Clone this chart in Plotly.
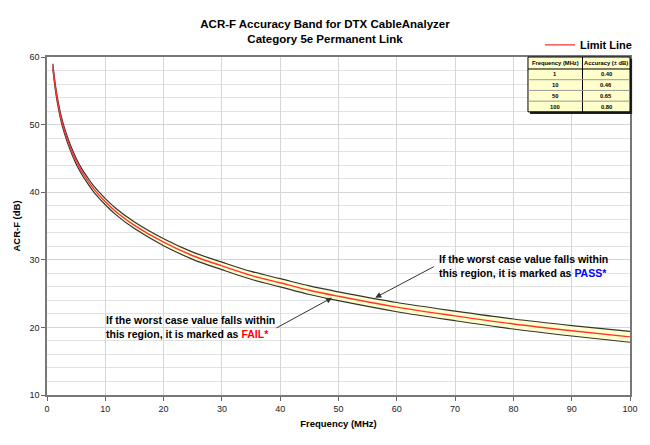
import plotly.graph_objects as go

# limit line (MHz -> dB)
freq = [1, 1.5, 2, 2.5, 3, 4, 5, 6, 7, 8, 10, 12, 15, 20, 25, 30, 35, 40, 45,
        50, 60, 70, 80, 90, 100]
limit = [58.6, 55.1, 52.6, 50.6, 49.1, 46.6, 44.6, 43.0, 41.7, 40.5, 38.6, 37.0,
         35.1, 32.6, 30.6, 29.1, 27.7, 26.6, 25.5, 24.6, 23.0, 21.7, 20.5, 19.5, 18.6]
# half width of the accuracy band at the same frequencies (estimated)
accuracy = [0.40, 0.40, 0.40, 0.41, 0.41, 0.41, 0.42, 0.42, 0.43, 0.44, 0.46, 0.47,
            0.48, 0.51, 0.53, 0.56, 0.58, 0.61, 0.63, 0.65, 0.68, 0.71, 0.74, 0.77, 0.80]

# accuracy table in the corner
table_freq = ["1", "10", "50", "100"]
table_acc = ["0.40", "0.46", "0.65", "0.80"]
table_header = ["Frequency (MHz)", "Accuracy (± dB)"]

FONT = "Arial, Liberation Sans, sans-serif"

upper = [l + a for l, a in zip(limit, accuracy)]
lower = [l - a for l, a in zip(limit, accuracy)]

fig = go.Figure()
fig.add_trace(go.Scatter(x=freq, y=lower, mode="lines", line_shape="spline",
                         line=dict(color="#333333", width=1.2),
                         showlegend=False, hoverinfo="skip"))
fig.add_trace(go.Scatter(x=freq, y=upper, mode="lines", line_shape="spline",
                         line=dict(color="#333333", width=1.2),
                         fill="tonexty", fillcolor="#FFFFCC",
                         showlegend=False, hoverinfo="skip"))
fig.add_trace(go.Scatter(x=freq, y=limit, mode="lines", line_shape="spline",
                         line=dict(color="#FF3333", width=1.4),
                         name="<b>Limit Line</b>"))

# arrows and region notes
note = "<b>If the worst case value falls within<br>this region, it is marked as "
fig.add_annotation(x=66.9, y=29.1, xanchor="left", yanchor="middle", align="left",
                   showarrow=False, font=dict(size=10.5, color="black", family=FONT),
                   text=note + "<span style='color:#0000FF'>PASS*</span></b>")
fig.add_annotation(x=9.8, y=20.1, xanchor="left", yanchor="middle", align="left",
                   showarrow=False, font=dict(size=10.5, color="black", family=FONT),
                   text=note + "<span style='color:#FF0000'>FAIL*</span></b>")
fig.add_annotation(x=56.3, y=24.4, ax=66.6, ay=29.1, axref="x", ayref="y",
                   text="", showarrow=True, arrowhead=2, arrowsize=1.2,
                   arrowwidth=1, arrowcolor="#333333")
fig.add_annotation(x=48.9, y=24.4, ax=39.1, ay=19.8, axref="x", ayref="y",
                   text="", showarrow=True, arrowhead=2, arrowsize=1.2,
                   arrowwidth=1, arrowcolor="#333333")

# corner table drawn with shapes + text
tx0, tx_mid, tx1 = 0.825, 0.9185, 1.0
ty_top, head_h, row_h = 1.0, 0.0355, 0.0317
ty_bot = ty_top - head_h - row_h * len(table_freq)
sx, sy = 0.0036, 0.006
fig.add_shape(type="rect", xref="paper", yref="paper", layer="above",
              x0=tx0 + sx, x1=tx1 + sx, y0=ty_bot - sy, y1=ty_top - sy,
              fillcolor="#222222", line=dict(width=0))
fig.add_shape(type="rect", xref="paper", yref="paper", layer="above",
              x0=tx0, x1=tx1, y0=ty_bot, y1=ty_top,
              fillcolor="#FFFFCC", line=dict(color="black", width=1))
fig.add_shape(type="line", xref="paper", yref="paper", layer="above",
              x0=tx_mid, x1=tx_mid, y0=ty_bot, y1=ty_top,
              line=dict(color="black", width=1))
for i in range(len(table_freq)):
    yy = ty_top - head_h - row_h * i
    fig.add_shape(type="line", xref="paper", yref="paper", layer="above",
                  x0=tx0, x1=tx1, y0=yy, y1=yy,
                  line=dict(color="black" if i == 0 else "#999999", width=1))

cell_font = dict(size=5.8, color="black", family=FONT)
for j, h in enumerate(table_header):
    cx = (tx0 + tx_mid) / 2 if j == 0 else (tx_mid + tx1) / 2
    fig.add_annotation(x=cx, y=ty_top - head_h / 2, xref="paper", yref="paper",
                       xanchor="center", yanchor="middle",
                       text="<b>" + h + "</b>", showarrow=False, font=cell_font)
for i, (f, a) in enumerate(zip(table_freq, table_acc)):
    yy = ty_top - head_h - row_h * (i + 0.5)
    fig.add_annotation(x=(tx0 + tx_mid) / 2, y=yy, xref="paper", yref="paper",
                       xanchor="center", yanchor="middle",
                       text="<b>" + f + "</b>", showarrow=False, font=cell_font)
    fig.add_annotation(x=(tx_mid + tx1) / 2, y=yy, xref="paper", yref="paper",
                       xanchor="center", yanchor="middle",
                       text="<b>" + a + "</b>", showarrow=False, font=cell_font)

fig.update_layout(
    width=650, height=445,
    margin=dict(l=47, r=20, t=57, b=50),
    paper_bgcolor="white", plot_bgcolor="white",
    font=dict(family=FONT, color="black"),
    title=dict(text="<b>ACR-F Accuracy Band for DTX CableAnalyzer<br>Category 5e Permanent Link</b>",
               x=0.5, xref="container", xanchor="center",
               y=0.937, yref="container", yanchor="middle",
               font=dict(size=11.5, color="black", family=FONT)),
    legend=dict(x=1.012, xanchor="right", y=1.036, yanchor="middle",
                font=dict(size=11, color="black", family=FONT),
                bgcolor="rgba(0,0,0,0)", itemwidth=30),
    showlegend=True,
)
fig.update_xaxes(range=[0, 100], dtick=10, ticks="outside", ticklen=4,
                 tickcolor="#666666", showline=True, linecolor="#777777",
                 linewidth=1.5, mirror=True, showgrid=True, gridcolor="#D6D6D6",
                 zeroline=False, tickfont=dict(size=9, color="#222222"),
                 title=dict(text="<b>Frequency (MHz)</b>", standoff=8,
                            font=dict(size=9.5, color="black")))
fig.update_yaxes(range=[10, 60], dtick=10, ticks="outside", ticklen=4,
                 tickcolor="#666666", showline=True, linecolor="#777777",
                 linewidth=1.5, mirror=True, showgrid=True, gridcolor="#D6D6D6",
                 zeroline=False, tickfont=dict(size=9, color="#222222"),
                 minor=dict(dtick=2, showgrid=True, gridcolor="#E2E2E2"),
                 title=dict(text="<b>ACR-F (dB)</b>", standoff=7,
                            font=dict(size=9.5, color="black")))

# drop the page's default body margin so the figure sits at the window corner
fig.write_html("out.html", config={"displayModeBar": False},
               post_script="document.body.style.margin='0';")
